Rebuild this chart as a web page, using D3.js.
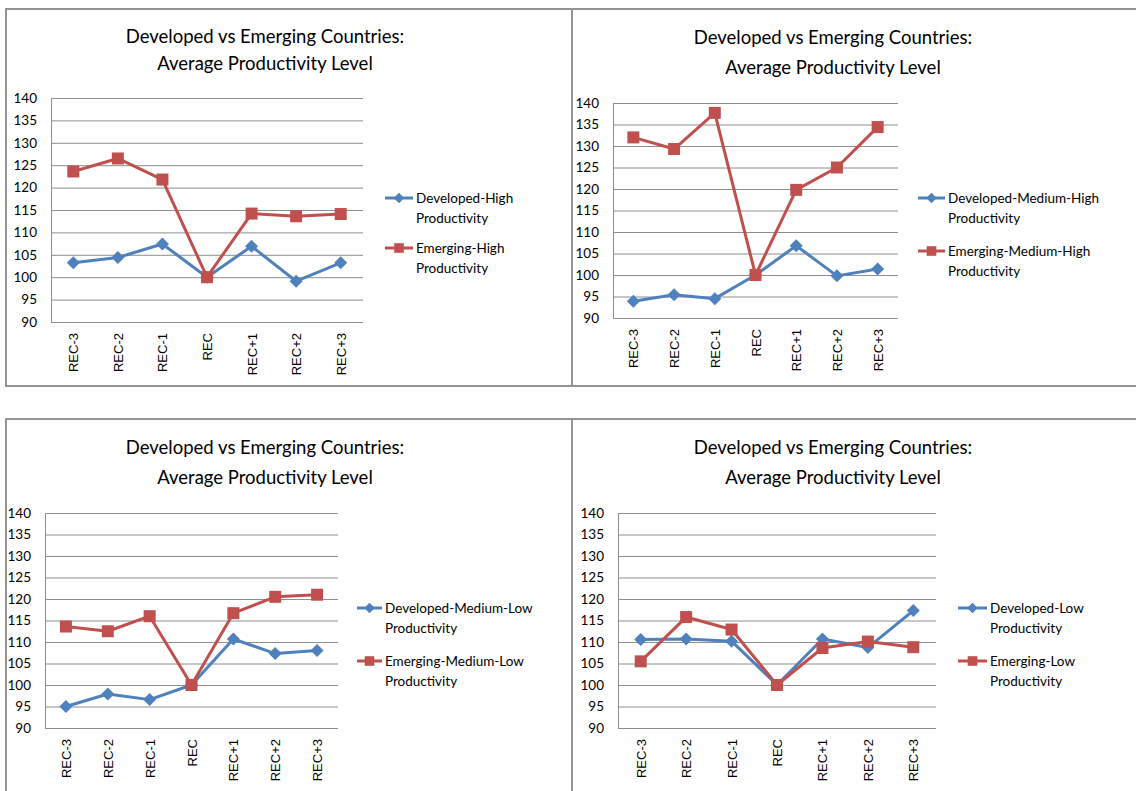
<!DOCTYPE html>
<html>
<head>
<meta charset="utf-8">
<script src="https://cdn.jsdelivr.net/npm/d3@7"></script>
<style>
  body { margin: 0; background: #fff; }
  svg { display: block; }
  .title { font-family: Lato, "Open Sans", sans-serif; font-size: 18.5px; fill: #000; }
  .ylab text { font-family: Lato, sans-serif; font-size: 13.5px; fill: #000; }
  .xlab text { font-family: "Liberation Sans", Arial, sans-serif; font-size: 13px; fill: #000; }
  .legend text { font-family: Lato, sans-serif; font-size: 13.5px; fill: #000; }
</style>
</head>
<body>
<svg width="1136" height="791"></svg>
<script>
 //chart values
var categories = ['REC-3', 'REC-2', 'REC-1', 'REC', 'REC+1', 'REC+2', 'REC+3'];
var yTicks = [90, 95, 100, 105, 110, 115, 120, 125, 130, 135, 140];
var titleLines = ['Developed vs Emerging Countries:', 'Average Productivity Level'];

var devHigh = [103.2, 104.4, 107.4, 100, 106.9, 99.1, 103.2],
    emgHigh = [123.6, 126.5, 121.8, 100, 114.2, 113.6, 114.1];
var devMedHigh = [93.9, 95.4, 94.5, 100, 106.8, 99.8, 101.4],
    emgMedHigh = [132.0, 129.3, 137.7, 100, 119.8, 125.0, 134.4];
var devMedLow = [95.0, 97.9, 96.6, 100, 110.7, 107.3, 108.0],
    emgMedLow = [113.6, 112.5, 116.0, 100, 116.7, 120.5, 121.0];
var devLow = [110.6, 110.7, 110.2, 100, 110.7, 108.7, 117.3],
    emgLow = [105.5, 115.8, 112.9, 100, 108.6, 110.1, 108.8];

var devNames = ['Developed-High', 'Developed-Medium-High', 'Developed-Medium-Low', 'Developed-Low'],
    emgNames = ['Emerging-High', 'Emerging-Medium-High', 'Emerging-Medium-Low', 'Emerging-Low'];

var BLUE = '#4F81BD', RED = '#C0504D', GRID = '#8e8e8e';

 //where each panel sits on the page
var layout = [
  { box: [6, 9, 572, 386], plot: [51, 98, 363, 322], tx: 265, ty: 37, tgap: 27, lx: 385, lw: 28, ly: 198, lgap: 50 },
  { box: [572, 9, 1145, 386], plot: [613, 103, 898, 318], tx: 833, ty: 38, tgap: 30, lx: 918, lw: 27, ly: 198, lgap: 53 },
  { box: [6, 419, 572, 800], plot: [45, 513, 338, 728], tx: 265, ty: 448, tgap: 30, lx: 357, lw: 25, ly: 608, lgap: 53 },
  { box: [572, 419, 1145, 800], plot: [618, 513, 936, 728], tx: 833, ty: 448, tgap: 30, lx: 958, lw: 29, ly: 608, lgap: 53 }
];
var devSeries = [devHigh, devMedHigh, devMedLow, devLow],
    emgSeries = [emgHigh, emgMedHigh, emgMedLow, emgLow];

var root = d3.select('svg');

layout.forEach(function(L, i) {
  var g = root.append('g');
  var b = L.box, p = L.plot;

  g.append('rect')
    .attr('x', b[0]).attr('y', b[1])
    .attr('width', b[2] - b[0]).attr('height', b[3] - b[1])
    .attr('fill', 'none').attr('stroke', '#939393').attr('stroke-width', 2);

  var t = g.append('text').attr('class', 'title').attr('text-anchor', 'middle');
  titleLines.forEach(function(s, k) {
    t.append('tspan').attr('x', L.tx).attr('y', L.ty + k * L.tgap).attr('dy', '0.35em').text(s);
  });

  var x = d3.scalePoint().domain(categories).range([p[0], p[2]]).padding(0.5),
      y = d3.scaleLinear().domain([90, 140]).range([p[3], p[1]]);

   //gridlines + y labels
  var ya = g.append('g').attr('class', 'ylab')
    .attr('transform', 'translate(' + p[0] + ',0)')
    .call(d3.axisLeft(y).tickValues(yTicks).tickSize(-(p[2] - p[0])).tickPadding(14).tickFormat(d3.format('d')));
  ya.select('.domain').remove();
  ya.selectAll('line').attr('stroke', GRID);

  g.append('line')
    .attr('x1', p[0] + 0.5).attr('x2', p[0] + 0.5)
    .attr('y1', p[1]).attr('y2', p[3])
    .attr('stroke', GRID);

  var xa = g.append('g').attr('class', 'xlab')
    .attr('transform', 'translate(0,' + p[3] + ')')
    .call(d3.axisBottom(x).tickSize(0));
  xa.select('.domain').remove();
  xa.selectAll('text')
    .attr('text-anchor', 'end')
    .attr('transform', 'rotate(-90)')
    .attr('x', -11).attr('y', 0).attr('dy', '0.35em');

  var line = d3.line()
    .x(function(d, k) { return x(categories[k]); })
    .y(function(d) { return y(d); });

  var series = [
    { vals: devSeries[i], color: BLUE, shape: 'diamond', name: devNames[i] },
    { vals: emgSeries[i], color: RED, shape: 'square', name: emgNames[i] }
  ];

  series.forEach(function(s, k) {
    g.append('path')
      .datum(s.vals)
      .attr('d', line)
      .attr('fill', 'none')
      .attr('stroke', s.color)
      .attr('stroke-width', 3)
      .attr('stroke-linejoin', 'round');

    g.selectAll('.m' + k)
      .data(s.vals)
      .enter()
      .append('path')
      .attr('d', marker(s.shape, 1))
      .attr('transform', function(d, j) { return 'translate(' + x(categories[j]) + ',' + y(d) + ')'; })
      .attr('fill', s.color);

     //legend
    var ly = L.ly + k * L.lgap;
    var lg = g.append('g').attr('class', 'legend');
    lg.append('line')
      .attr('x1', L.lx).attr('x2', L.lx + L.lw)
      .attr('y1', ly).attr('y2', ly)
      .attr('stroke', s.color).attr('stroke-width', 3);
    lg.append('path')
      .attr('d', marker(s.shape, 0.8))
      .attr('transform', 'translate(' + (L.lx + L.lw / 2) + ',' + ly + ')')
      .attr('fill', s.color);
    var lt = lg.append('text');
    lt.append('tspan').attr('x', L.lx + L.lw + 3).attr('y', ly).attr('dy', '0.35em').text(s.name);
    lt.append('tspan').attr('x', L.lx + L.lw + 3).attr('y', ly + 20).attr('dy', '0.35em').text('Productivity');
  });
});

function marker(shape, k) {
  if (shape === 'square') {
    var h = 6 * k;
    return 'M' + (-h) + ',' + (-h) + 'H' + h + 'V' + h + 'H' + (-h) + 'Z';
  }
  var r = 6.5 * k;
  return 'M0,' + (-r) + 'L' + r + ',0L0,' + r + 'L' + (-r) + ',0Z';
}
</script>
</body>
</html>
